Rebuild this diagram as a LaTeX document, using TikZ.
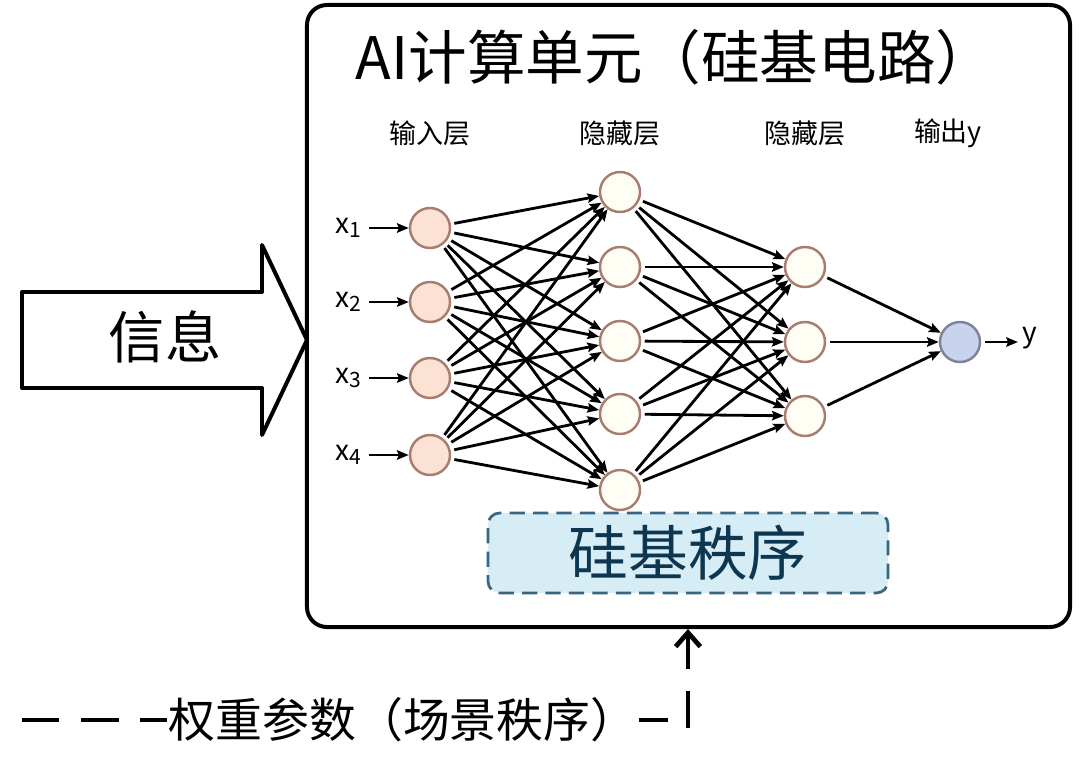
\documentclass[tikz,border=0pt]{standalone}
\usepackage{fontspec}
\setmainfont{Noto Sans CJK SC}
\usepackage{tikz}
\usetikzlibrary{positioning,arrows.meta,calc}

\definecolor{inputfill}{RGB}{251,226,212}
\definecolor{nodeedge}{RGB}{168,124,110}
\definecolor{hiddenfill}{RGB}{255,254,244}
\definecolor{outfill}{RGB}{200,212,238}
\definecolor{outedge}{RGB}{124,132,152}
\definecolor{orderfill}{RGB}{214,237,246}
\definecolor{orderedge}{RGB}{58,101,128}
\definecolor{ordertext}{RGB}{13,54,80}

\begin{document}
\begin{tikzpicture}[x=0.03cm,y=-0.03cm,>={Stealth[length=10pt,width=8pt,inset=1.5pt]},
  neuron/.style={circle,draw=nodeedge,line width=2.1pt,minimum size=1.2cm,inner sep=0pt},
  inneuron/.style={neuron,fill=inputfill},
  hidneuron/.style={neuron,fill=hiddenfill},
  outneuron/.style={neuron,draw=outedge,fill=outfill},
  link/.style={->,line width=2.4pt,shorten <=3pt},
  layerlabel/.style={font=\fontsize{23}{27}\selectfont},
  wdash/.style={line width=4pt,dash pattern=on 32pt off 18.5pt}]
  \useasboundingbox (0,0) rectangle (1080,775);
  % ---------------- compute unit ----------------
  \node[draw,line width=3.4pt,rounded corners=17pt,minimum width=22.89cm,minimum height=18.66cm] (aibox) at (688.5,316) {};
  \node[font=\fontsize{50}{60}\selectfont] (title) at (675,57) {AI计算单元（硅基电路）};
  \node[layerlabel] (lin) at (430,133) {输入层};
  \node[layerlabel] (lha) at (620,133) {隐藏层};
  \node[layerlabel] (lhb) at (805,133) {隐藏层};
  \node[layerlabel] (lout) at (948,133) {输出y};
  % neurons
  \foreach \i/\yy in {1/228,2/302,3/378,4/455}{
    \node[inneuron] (in\i) at (430,\yy) {};
    \node[font=\fontsize{24}{28}\selectfont] (xl\i) at (348,\yy) {x{\fontsize{18}{18}\selectfont\raisebox{-4pt}{\i}}};
    \draw[link] (xl\i) -- (in\i);
  }
  \foreach \j/\yy in {1/192,2/267,3/341,4/414,5/490}
    \node[hidneuron] (ha\j) at (620,\yy) {};
  \foreach \k/\yy in {1/267,2/342,3/416}
    \node[hidneuron] (hb\k) at (805,\yy) {};
  \node[outneuron] (out) at (960,342) {};
  \node[font=\fontsize{24}{28}\selectfont,anchor=west] (ylab) at (1018,338) {y};
  % weights between layers
  \foreach \i in {1,...,4}
    \foreach \j in {1,...,5}
      \draw[link] (in\i) -- (ha\j);
  \foreach \j in {1,...,5}
    \foreach \k in {1,...,3}
      \draw[link] (ha\j) -- (hb\k);
  \foreach \k in {1,...,3}
    \draw[link] (hb\k) -- (out);
  \draw[link] (out) -- (out -| ylab.west);
  % silicon order
  \node[draw=orderedge,line width=2.3pt,dash pattern=on 13pt off 7pt,fill=orderfill,rounded corners=10pt,
    minimum width=12cm,minimum height=2.4cm,text=ordertext,font=\fontsize{51}{61}\selectfont] (order) at (688,553) {硅基秩序};
  % ---------------- information arrow ----------------
  \draw[line width=3.4pt,line join=round] (22,292) -- (262,292) -- (262,245) -- (307,340)
    -- (262,435) -- (262,388) -- (22,388) -- cycle;
  \node[font=\fontsize{48}{58}\selectfont] (info) at (165,337) {信息};
  % ---------------- weights (scene order) ----------------
  \node[font=\fontsize{40}{48}\selectfont,inner sep=1pt] (wlabel) at (403,720) {权重参数（场景秩序）};
  \coordinate (wstart) at (22,720);
  \coordinate (wend) at (668,720);
  \coordinate (wturn) at (688,728);
  \draw[wdash] (wstart) -- (wlabel.west |- wstart);
  \draw[wdash] (wlabel.east |- wstart) -- (wend);
  \draw[wdash,-{Straight Barb[length=12pt,width=21pt]}] (wturn) -- (aibox.south -| wturn);
\end{tikzpicture}
\end{document}
